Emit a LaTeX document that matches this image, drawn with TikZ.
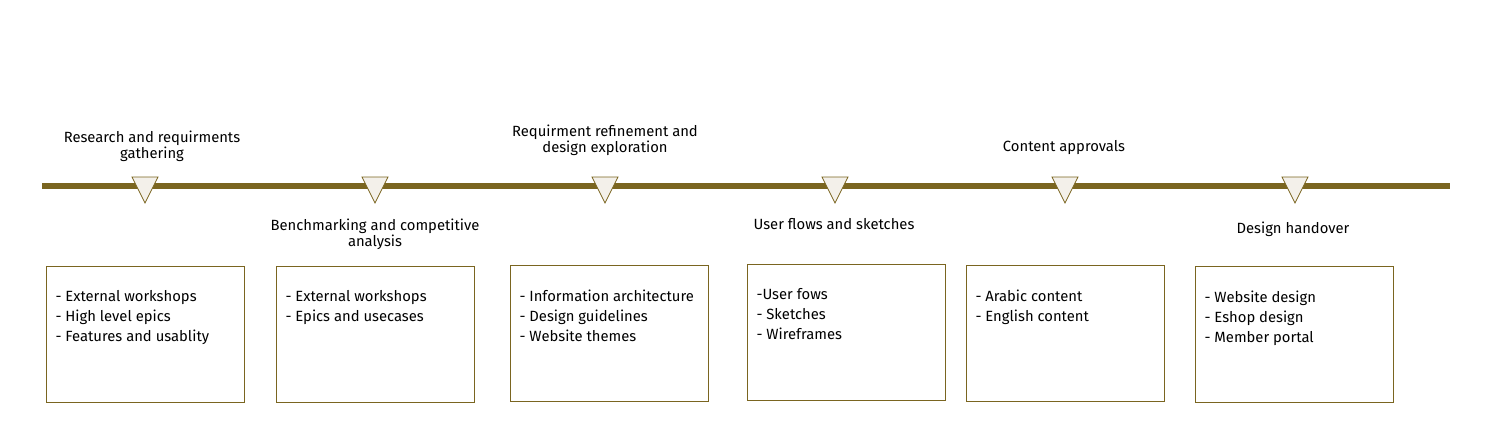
\documentclass[tikz,border=0pt]{standalone}
\usepackage{fontspec}
\setmainfont{Fira Sans}
\usetikzlibrary{shapes.geometric}
\definecolor{olive}{HTML}{7A6520}
\definecolor{marker}{HTML}{F3F0EA}
\tikzset{
	phase/.style={font=\fontsize{14.8}{16}\selectfont, align=center},
	itembox/.style={draw=olive, line width=0.8pt, minimum width=198pt, minimum height=136pt, anchor=north west},
	items/.style={font=\fontsize{14.8}{20}\selectfont, align=left, anchor=north west},
	tick/.style={draw=olive, fill=marker, line width=0.8pt}
}
\begin{document}
\begin{tikzpicture}[x=1pt, y=-1pt]
			\useasboundingbox (0,0) rectangle (1511,426);
			\coordinate (start) at (42,186);
			\coordinate (end) at (1450,186);
			\draw[olive, line width=6pt] (start) -- (end);
			\foreach \x [count=\i] in {145,375,605,835,1065,1295}
				\draw[tick] (\x-13,177) -- (\x+13,177) -- (\x,203) -- cycle;
			% phases above and below the line
			\node[phase] (p1) at (152,146) {Research and requirments\\gathering};
			\node[phase] (p2) at (375,234) {Benchmarking and competitive\\analysis};
			\node[phase] (p3) at (605,140) {Requirment refinement and\\design exploration};
			\node[phase] (p4) at (834,224) {User flows and sketches};
			\node[phase] (p5) at (1064,148) {Content approvals};
			\node[phase] (p6) at (1293,229) {Design handover};
			% boxes with deliverables
			\foreach \x/\y/\txt [count=\i] in {
				46/266/{- External workshops\\- High level epics\\- Features and usablity},
				276/266/{- External workshops\\- Epics and usecases},
				510/265/{- Information architecture\\- Design guidelines\\- Website themes},
				747/264/{-User fows\\- Sketches\\- Wireframes},
				966/265/{- Arabic content\\- English content},
				1195/266/{- Website design\\- Eshop design\\- Member portal}} {
				\node[itembox] (b\i) at (\x,\y) {};
				\node[items] (t\i) at (\x+6,\y+21) {\txt};
			}
		\end{tikzpicture}
\end{document}
